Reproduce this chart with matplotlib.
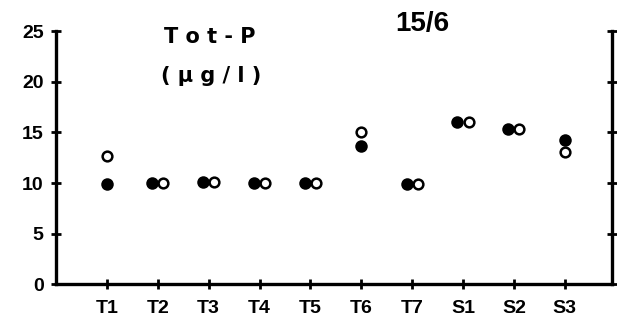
import numpy as np
import matplotlib
matplotlib.use("Agg")
import matplotlib.pyplot as plt

# Tot-P (ug/l) on 15/6, two series per station (filled / open circles)
stations = ["T1", "T2", "T3", "T4", "T5", "T6", "T7", "S1", "S2", "S3"]
filled_vals = [9.9, 10.0, 10.1, 10.0, 10.0, 13.7, 9.9, 16.0, 15.3, 14.3]
open_vals = [12.7, 10.0, 10.1, 10.0, 10.0, 15.0, 9.9, 16.0, 15.3, 13.1]
y_ticks = [0, 5, 10, 15, 20, 25]

plt.rcParams['font.family'] = ['Liberation Sans', 'DejaVu Sans']
plt.rcParams['font.weight'] = 'bold'

fig = plt.figure(figsize=(6.17, 3.24), dpi=100)
ax = fig.add_axes([0.09, 0.122, 0.902, 0.782])

x = np.arange(1, len(stations) + 1)
filled = np.array(filled_vals)
hollow = np.array(open_vals)
# side-by-side when values are about equal, stacked otherwise
shift = np.where(np.abs(filled - hollow) < 0.5, 0.11, 0.0)

ax.plot(x - shift, filled, 'o', ms=7.8, mfc='black', mec='black', mew=1.2,
        ls='none', zorder=3)
ax.plot(x + shift, hollow, 'o', ms=7.0, mfc='white', mec='black', mew=1.8,
        ls='none', zorder=4)

ax.set_xlim(-0.01, 10.93)
ax.set_ylim(0, 25)
ax.set_xticks(x)
ax.set_xticklabels(stations)
ax.set_yticks(y_ticks)

for side in ['left', 'bottom', 'right']:
    ax.spines[side].set_linewidth(2.4)
ax.spines['top'].set_visible(False)

ax.tick_params(axis='both', direction='inout', length=7, width=2,
               labelsize=14)
ax.tick_params(axis='x', pad=8)
ax.tick_params(axis='y', pad=5, right=True)
for lab in ax.get_xticklabels() + ax.get_yticklabels():
    lab.set_fontweight('bold')

fig.text(0.34, 0.886, "T o t - P", ha='center', va='center', fontsize=15,
         fontweight='bold', family='DejaVu Sans')
fig.text(0.342, 0.765, "( µ g / l )", ha='center', va='center', fontsize=15,
         fontweight='bold', family='DejaVu Sans')
fig.text(0.684, 0.926, "15/6", ha='center', va='center', fontsize=20,
         fontweight='bold')

fig.savefig('out.png', dpi=100)
plt.close(fig)
